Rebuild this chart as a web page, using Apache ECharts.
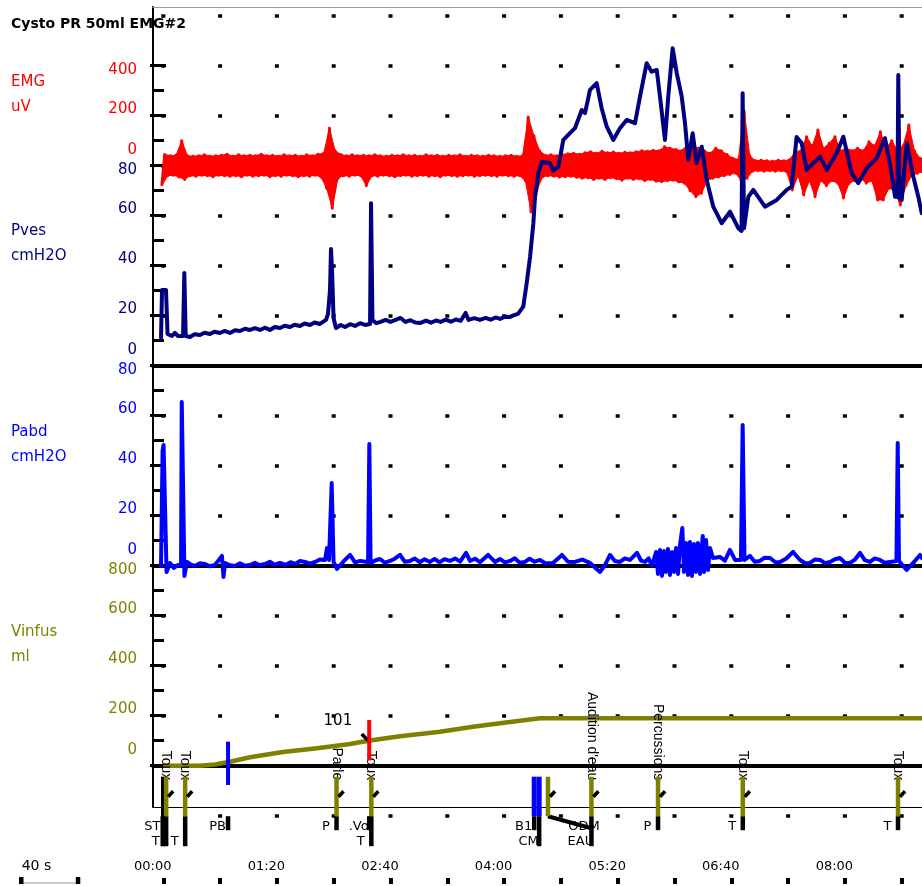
<!DOCTYPE html>
<html>
<head>
<meta charset="utf-8">
<script src="https://cdn.jsdelivr.net/npm/echarts@6/dist/echarts.min.js"></script>
<style>
  html, body { margin: 0; padding: 0; background: #fff; }
  #chart { width: 922px; height: 886px; }
</style>
</head>
<body>
<div id="chart"></div>
<script>
// ---------- recording data ----------
const chartTitle = 'Cysto PR 50ml EMG#2';

// time axis, seconds
const timeMin = -7.25;
const timeMax = 534.3;
const timeTickValues = [0, 40, 80, 120, 160, 200, 240, 280, 320, 360, 400, 440, 480, 520];
const timeLabelValues = [0, 80, 160, 240, 320, 400, 480];
const scaleBarSeconds = 40;

// channel axis labels and ticks
const emgLabels = [0, 200, 400];
const pvesLabels = [0, 20, 40, 60, 80];
const pvesMajor = [0, 20, 40, 60, 80, 100, 120];
const pvesMinor = [10, 30, 50, 70, 90, 110];
const pabdLabels = [0, 20, 40, 60, 80];
const pabdMajor = [0, 20, 40, 60, 80];
const pabdMinor = [10, 30, 50, 70];
const vinfusLabels = [0, 200, 400, 600, 800];
const vinfusMajor = [0, 200, 400, 600, 800];
const vinfusMinor = [100, 300, 500, 700];

// EMG envelope (uV): one trough and one peak per 4 s window, starting at -1 s
const emgStart = -1;
const emgStep = 4;
const emgLo = [
  -80, -40, -38, -45, -55, -40, -42, -38, -40, -44,
  -38, -40, -42, -40, -44, -38, -42, -40, -38, -44,
  -40, -42, -38, -40, -44, -40, -42, -38, -45, -90,
  -170, -50, -40, -42, -38, -40, -80, -40, -42, -38,
  -40, -44, -40, -38, -42, -40, -38, -42, -40, -44,
  -38, -40, -42, -40, -38, -42, -40, -38, -40, -42,
  -38, -40, -42, -40, -60, -185, -100, -45, -40, -42,
  -45, -44, -42, -46, -50, -48, -55, -50, -55, -48,
  -52, -58, -50, -55, -52, -60, -55, -62, -64, -60,
  -58, -65, -70, -100, -124, -110, -60, -50, -45, -40,
  -35, -30, -60, -50, -22, -20, -22, -20, -22, -20,
  -25, -97, -40, -117, -60, -124, -60, -80, -60, -70,
  -129, -70, -60, -50, -70, -60, -137, -137, -90, -100,
  -157, -80, -40, -30, -25
];
const emgHi = [
  45, 40, 42, 100, 40, 38, 40, 44, 38, 40,
  42, 46, 38, 44, 40, 42, 40, 46, 40, 42,
  38, 44, 40, 42, 38, 44, 40, 46, 50, 150,
  60, 45, 40, 44, 40, 42, 40, 44, 40, 38,
  42, 40, 44, 40, 42, 38, 44, 40, 42, 38,
  42, 40, 44, 38, 42, 40, 38, 42, 40, 38,
  40, 42, 38, 40, 195, 120, 60, 42, 44, 40,
  45, 48, 50, 46, 52, 56, 50, 58, 52, 55,
  50, 54, 52, 56, 60, 58, 62, 60, 76, 70,
  65, 60, 83, 80, 70, 60, 50, 70, 60, 45,
  30, 25, 220, 40, 20, 22, 20, 18, 22, 20,
  24, 56, 60, 116, 80, 143, 70, 90, 116, 60,
  70, 60, 70, 60, 96, 80, 136, 70, 100, 60,
  80, 163, 60, 30, 25
];

// Pves (cmH2O): [time s, value]
const pvesSamples = [
  [-1.6, 11.1], [-0.9, 30.3], [1.9, 30.3], [3.0, 12.7], [6.1, 11.9], [8.2, 13.1], [10.4, 11.9],
  [13.9, 11.9], [14.8, 37.1], [15.8, 11.9], [18.8, 11.5], [22.0, 12.6], [25.8, 12.3], [29.0, 13.2],
  [32.9, 12.7], [36.0, 13.6], [39.9, 13.1], [43.0, 13.9], [47.0, 13.1], [50.5, 14.2], [54.0, 13.9],
  [57.5, 14.8], [61.1, 14.3], [64.5, 15.0], [68.1, 14.3], [71.5, 15.2], [75.1, 14.3], [78.5, 15.5],
  [82.2, 15.1], [85.5, 16.0], [89.2, 15.5], [92.5, 16.4], [96.3, 15.9], [99.5, 16.9], [103.3, 16.3],
  [106.5, 17.3], [110.3, 16.7], [114.6, 18.3], [116.0, 20.7], [117.4, 30.3],
  [118.1, 46.7], [118.8, 38.3], [119.9, 19.1], [121.6, 15.1], [125.0, 16.3], [128.0, 15.5],
  [131.5, 16.6], [135.0, 15.9], [138.5, 17.0], [142.1, 16.3], [145.6, 16.7], [146.3, 65.0],
  [147.3, 18.3], [150.0, 17.0], [153.0, 17.5], [156.5, 18.3], [160.0, 17.5],
  [167.1, 19.1], [170.6, 17.5], [174.0, 18.2], [177.5, 17.3], [181.2, 17.1], [185.0, 18.0],
  [188.5, 17.2], [192.0, 18.1], [195.3, 17.5], [199.0, 18.4], [202.5, 17.6], [206.0, 18.5],
  [209.4, 17.9], [212.9, 21.1], [215.0, 18.3], [219.0, 19.0], [223.0, 18.3], [227.0, 19.1],
  [230.5, 18.4], [234.0, 19.3], [237.1, 18.7], [240.5, 19.6], [244.2, 19.5], [247.0, 20.2],
  [249.8, 20.7], [251.2, 19.9],
  [253.5, 23.6], [255.9, 33.0], [258.3, 43.6], [260.6, 57.0], [261.8, 67.6], [264.1, 77.0],
  [266.5, 81.6], [272.3, 81.0], [274.6, 78.0], [278.2, 79.6], [281.7, 90.3], [286.4, 93.0],
  [289.9, 95.0], [294.7, 102.3], [297.0, 101.0], [300.5, 110.3], [305.2, 113.0], [308.7, 103.0],
  [312.3, 95.6], [316.9, 90.3], [321.6, 95.0], [326.3, 98.3], [332.2, 97.0], [335.7, 107.6],
  [340.4, 121.0], [343.9, 117.6], [347.5, 118.3], [349.8, 107.6], [353.3, 90.3], [355.6, 107.6],
  [358.7, 127.0], [361.6, 117.0], [365.1, 107.6], [367.4, 97.0], [369.7, 82.3], [372.8, 93.0],
  [375.6, 81.0], [379.2, 87.6], [382.7, 74.3], [387.3, 63.6], [393.2, 57.0], [399.1, 61.6],
  [404.9, 55.0], [407.2, 53.9], [408.0, 109.0], [409.0, 55.0], [412.0, 67.6], [415.5, 70.3],
  [423.7, 63.6], [432.0, 66.3], [439.0, 70.3], [442.5, 71.6], [446.0, 91.5], [449.6, 89.0],
  [453.1, 78.3], [457.7, 81.0], [462.5, 83.6], [467.2, 78.3], [474.2, 85.0], [478.9, 91.6],
  [484.8, 77.0], [489.4, 73.0], [495.3, 79.0], [502.4, 83.0], [508.2, 91.0], [512.9, 77.0],
  [515.3, 67.6], [517.0, 67.5], [517.6, 116.3], [518.5, 67.0], [520.0, 66.3], [523.6, 89.0],
  [528.2, 75.6], [531.7, 67.6], [534.1, 61.0]
];

// Pabd (cmH2O): [time s, value]
const pabdSamples = [
  [-1.6, -0.1], [-0.5, 46.0], [0.2, 48.3], [1.2, 48.3], [2.3, -2.5], [4.7, 1.1], [7.5, -0.9], [10.4, 0.3],
  [12.5, 0.0], [13.0, 65.5], [14.9, -4.1], [16.7, 1.5], [19.5, 0.4], [22.3, -0.1], [25.8, 1.0], [29.4, 0.7],
  [32.8, -0.2], [36.4, 0.3], [41.3, 3.9], [42.4, -4.5], [43.5, 1.1], [47.0, 0.2], [50.5, -0.1], [54.0, 1.0],
  [57.5, 0.0], [61.1, 0.3], [64.5, 1.2], [68.0, 0.2], [71.6, 0.7], [75.0, 1.6], [78.5, 0.4], [82.2, 1.1],
  [86.0, 0.3], [89.5, 1.4], [92.8, 0.7], [96.3, 1.9], [99.8, 1.5], [103.3, 0.8], [106.9, 1.5], [110.3, 2.5],
  [113.9, 2.3], [115.3, 7.1], [116.7, 2.3], [118.6, 33.1],
  [119.9, 1.5], [122.3, -1.3], [126.6, 1.5], [131.5, 4.3], [135.0, 1.3], [138.6, 1.9], [144.2, 1.5], [145.1, 48.7],
  [146.0, 1.1], [149.5, 2.2], [152.7, 2.7], [156.0, 1.2], [159.7, 1.9], [163.0, 2.8], [166.7, 4.3], [170.0, 1.6],
  [173.7, 1.9], [177.0, 2.9], [180.5, 1.4], [184.0, 2.6], [187.8, 1.5], [191.0, 2.7], [194.5, 1.3], [198.0, 2.6],
  [201.9, 1.9], [205.5, 2.9], [209.0, 1.6], [213.2, 5.1], [216.0, 1.9], [219.5, 2.8], [223.0, 1.4],
  [228.7, 4.3], [233.6, 1.5], [237.0, 2.7], [240.5, 1.3], [244.2, 1.9], [247.5, 3.0], [251.0, 1.2],
  [254.7, 1.5], [258.0, 2.8], [261.5, 1.6], [265.3, 2.3],
  [269.0, 1.0], [274.4, 1.1], [280.8, 4.3], [285.0, 1.6], [289.9, 1.5], [295.0, 2.4], [300.5, 1.1],
  [307.5, -2.5], [311.1, 0.3], [314.6, 4.3], [318.0, 1.9], [321.6, 1.5], [325.0, 2.9], [328.7, 2.3],
  [333.6, 5.1], [336.5, 2.0], [339.3, 1.5], [341.8, 2.9], [344.1, -0.1], [347.0, 5.5], [348.4, -3.3],
  [349.8, 6.3], [351.2, -4.1], [352.6, 5.9], [354.0, -2.5], [355.4, 6.7], [356.8, -3.7], [358.3, 5.5],
  [359.7, -2.5], [361.1, 7.1], [362.5, -3.3], [363.9, 8.3], [365.5, 15.1], [366.7, -2.5], [368.1, 9.1],
  [369.5, -3.7], [370.9, 9.5], [372.3, -4.1], [373.7, 8.7], [375.1, -2.5], [376.5, 9.1], [378.0, -3.3],
  [379.9, 11.9], [380.8, -2.5], [382.2, 10.3], [383.6, -1.7], [385.0, 7.1], [387.1, 3.1], [392.0, 3.5],
  [395.5, 2.0], [399.1, 6.3], [402.6, 2.3], [406.8, 2.3], [408.0, 56.3], [409.3, 2.3], [413.2, 3.9],
  [416.5, 1.6], [420.2, 1.9], [423.5, 3.2], [427.3, 3.1], [431.0, 1.4], [434.3, 1.5], [438.5, 2.8],
  [443.5, 5.5], [448.4, 2.3], [452.0, 1.0], [455.4, 1.1], [459.0, 2.5], [462.5, 2.3], [466.0, 1.0],
  [469.5, 1.5], [473.0, 2.6], [476.5, 3.1], [480.0, 1.2], [483.6, 1.1], [487.0, 2.4], [490.6, 5.1],
  [494.0, 2.2], [497.7, 1.5], [501.0, 2.9], [504.7, 2.3], [508.0, 1.2], [511.8, 1.5], [516.3, 1.9],
  [517.2, 49.1], [518.1, 1.9], [523.5, -1.7], [528.7, 1.5], [532.9, 4.3], [534.3, 3.0]
];

// Vinfus (ml): [time s, value]
const vinfusSamples = [
  [0, 0], [25.8, 0], [36.4, 5], [47.0, 16], [61.0, 34], [84.3, 55], [108.3, 70], [131.5, 87],
  [145.6, 101], [166.7, 118], [194.9, 136], [218.1, 156], [237.1, 170], [251.2, 180],
  [265.3, 190], [534.3, 190]
];

// volume marker
const volumeMarkTime = 145.0;
const volumeMarkValue = 101;

// event markers
const markTime = [-0.4, 2.0, 15.4, 45.6, 122.0, 145.0, 146.5, 261.2, 264.7, 270.9, 301.5, 348.4, 408.1, 517.4];
const markKind = ['start', 'event', 'event', 'pb', 'event', 'vol', 'event', 'blue', 'blue', 'event', 'event', 'event', 'event', 'event'];
const markLane = [2, 2, 2, 1, 1, 1, 2, 1, 2, 0, 2, 1, 1, 1];
const markRow1 = ['ST', '', '', 'PB', 'P', '.Vo', '', 'B1', '', 'ODM', '', 'P', 'T', 'T'];
const markRow2 = ['', 'T', 'T', '', '', '', 'T', '', 'CM', '', 'EAU', '', '', ''];
const markNote = ['', 'Toux', 'Toux', '', 'Parle', '', 'Toux', '', '', '', "Audition d'eau", 'Percussions', 'Toux', 'Toux'];
const markLink = [null, null, null, null, null, null, null, null, null, 301.5, null, null, null, null];

// ---------- colours & layout ----------
const RED = '#ff0000', NAVY = '#000080', BLUE = '#0000ff', OLIVE = '#808000';
const FONT = 'DejaVu Sans';
const LEFT = 153, WIDTH = 769;
const DOT_LINE = { color: '#000', width: 3.5, type: [4, 52.8], dashOffset: 48.5 };

// EMG as a zig-zag through the envelope points (trough, then peak, per window)
const emgData = [];
emgLo.forEach((lo, i) => {
  const t = emgStart + i * emgStep;
  emgData.push([t, lo], [t + emgStep / 2, emgHi[i]]);
});

const mmss = v => String(Math.floor(v / 60)).padStart(2, '0') + ':' + String(v % 60).padStart(2, '0');

function labelFormatter(values) {
  const top = Math.max.apply(null, values), bottom = Math.min.apply(null, values);
  return v => (v === top ? '{t|' + v + '}' : v === bottom ? '{b|' + v + '}' : '{m|' + v + '}');
}
function labelRich(color) {
  const base = { color: color, fontFamily: FONT, fontSize: 15 };
  return {
    t: Object.assign({ padding: [8.6, 0, 0, 0] }, base),
    m: Object.assign({ padding: [0, 0, 13.4, 0] }, base),
    b: Object.assign({ padding: [0, 0, 31.4, 0] }, base)
  };
}

function xAxisFor(gridIndex, extra) {
  return Object.assign({
    type: 'value', gridIndex: gridIndex, min: timeMin, max: timeMax,
    axisLine: { show: false, onZero: false }, axisTick: { show: false },
    axisLabel: { show: false }, splitLine: { show: false }
  }, extra || {});
}
function plainY(gridIndex, min, max, extra) {
  return Object.assign({
    type: 'value', gridIndex: gridIndex, min: min, max: max, position: 'left',
    axisLine: { show: false, onZero: false }, axisTick: { show: false },
    axisLabel: { show: false }, splitLine: { show: false }
  }, extra || {});
}
function labelledY(gridIndex, min, max, interval, labels, major, color, showDots) {
  return plainY(gridIndex, min, max, {
    interval: interval, offset: 3,
    axisTick: { show: true, inside: true, length: 16, customValues: major, lineStyle: { color: '#000', width: 3 } },
    axisLabel: { show: true, customValues: labels, margin: 13, formatter: labelFormatter(labels), rich: labelRich(color) },
    splitLine: { show: showDots, lineStyle: DOT_LINE }
  });
}
function minorY(gridIndex, min, max, minor) {
  return plainY(gridIndex, min, max, {
    axisTick: { show: true, inside: true, length: 11, customValues: minor, lineStyle: { color: '#000', width: 3 } }
  });
}

// filled EMG band between consecutive trough and peak points
function renderEmgBand(params, api) {
  const i = api.value(1);
  if (i >= emgLo.length - 1) return null;
  const t0 = emgStart + i * emgStep, t1 = t0 + emgStep, h = emgStep / 2;
  const pts = [
    api.coord([t0, emgLo[i]]), api.coord([t1, emgLo[i + 1]]),
    api.coord([t1 + h, emgHi[i + 1]]), api.coord([t0 + h, emgHi[i]])
  ];
  return { type: 'polygon', shape: { points: pts }, style: { fill: RED, stroke: RED, lineWidth: 1 } };
}

// event markers below the volume channel
function renderMarker(params, api) {
  const i = api.value(1);
  const x = api.coord([api.value(0), 0])[0];
  const top = params.coordSys.y;
  const barTop = top + 11, barBottom = top + 50.5;
  const stubEnd = markLane[i] === 2 ? top + 80.5 : top + 64.5;
  const linkX = markLink[i] != null ? api.coord([markLink[i], 0])[0] : x;
  const labelX = markLink[i] != null ? linkX + 3 : x;
  const codeFont = '13px "' + FONT + '"';
  const kids = [];
  if (markRow1[i]) kids.push({ type: 'text', x: labelX - 10.5, y: top + 60.5,
    style: { text: markRow1[i], font: codeFont, fill: '#000', align: 'center', verticalAlign: 'middle' } });
  if (markRow2[i]) kids.push({ type: 'text', x: labelX - 10.5, y: top + 75.5,
    style: { text: markRow2[i], font: codeFont, fill: '#000', align: 'center', verticalAlign: 'middle' } });
  if (markNote[i]) kids.push({ type: 'text', x: x, y: top + 14.5, rotation: -Math.PI / 2,
    style: { text: markNote[i], font: '14px "Liberation Sans"', fill: '#000', align: 'right', verticalAlign: 'middle' } });
  if (markLane[i]) kids.push({ type: 'rect', shape: { x: x - 2.25, y: barBottom, width: 4.5, height: stubEnd - barBottom }, style: { fill: '#000' } });
  if (markLink[i] != null) kids.push({ type: 'line', shape: { x1: x, y1: barBottom, x2: linkX, y2: top + 62.5 }, style: { stroke: '#000', lineWidth: 4 } });
  const kind = markKind[i];
  if (kind === 'event') {
    kids.push({ type: 'rect', shape: { x: x - 2.25, y: barTop, width: 4.5, height: barBottom - barTop }, style: { fill: OLIVE } });
    kids.push({ type: 'line', shape: { x1: x + 2, y1: top + 31, x2: x + 7, y2: top + 25.5 }, style: { stroke: '#000', lineWidth: 3.5 } });
  } else if (kind === 'blue') {
    kids.push({ type: 'rect', shape: { x: x - 2.5, y: barTop, width: 5, height: barBottom - barTop }, style: { fill: BLUE } });
  } else if (kind === 'start') {
    kids.push({ type: 'rect', shape: { x: x - 1.75, y: barTop, width: 3.5, height: top + 80.5 - barTop }, style: { fill: '#000' } });
  } else if (kind === 'pb') {
    kids.push({ type: 'rect', shape: { x: x - 2, y: top - 24, width: 4, height: 43.3 }, style: { fill: BLUE } });
  }
  return { type: 'group', children: kids };
}

// red volume marker with its value
function renderVolume(params, api) {
  const v = api.value(1);
  const p = api.coord([api.value(0), v]);
  return { type: 'group', children: [
    { type: 'text', x: p[0] - 17, y: p[1] - 19.5,
      style: { text: String(v), font: '15px "' + FONT + '"', fill: '#000', align: 'right', verticalAlign: 'middle' } },
    { type: 'line', shape: { x1: p[0] - 7.5, y1: p[1] - 6.5, x2: p[0] - 1, y2: p[1] }, style: { stroke: '#000', lineWidth: 3.5 } },
    { type: 'rect', shape: { x: p[0] - 2, y: p[1] - 20.5, width: 4, height: 40.5 }, style: { fill: RED } }
  ] };
}

const nameStyle = color => ({ fontFamily: FONT, fontSize: 15, lineHeight: 25, fontWeight: 'normal', color: color });

const option = {
  animation: false,
  backgroundColor: '#fff',
  textStyle: { fontFamily: FONT },
  title: [
    { text: chartTitle, left: 11, top: 16, padding: 0,
      textStyle: { fontFamily: FONT, fontWeight: 'bold', fontSize: 14, lineHeight: 16, color: '#000' } },
    { text: 'EMG\nuV', left: 11, top: 69.2, padding: 0, textStyle: nameStyle(RED) },
    { text: 'Pves\ncmH2O', left: 11, top: 218.2, padding: 0, textStyle: nameStyle(NAVY) },
    { text: 'Pabd\ncmH2O', left: 11, top: 419.2, padding: 0, textStyle: nameStyle(BLUE) },
    { text: 'Vinfus\nml', left: 11, top: 619.5, padding: 0, textStyle: nameStyle(OLIVE) }
  ],
  grid: [
    { left: LEFT, width: WIDTH, top: 7, height: 800 },      // 0 frame
    { left: LEFT, width: WIDTH, top: 15.7, height: 350 },   // 1 EMG + Pves
    { left: LEFT, width: WIDTH, top: 365.7, height: 200 },  // 2 Pabd
    { left: LEFT, width: WIDTH, top: 565.7, height: 200 },  // 3 Vinfus
    { left: LEFT, width: WIDTH, top: 765.7, height: 50 },   // 4 events
    { left: LEFT, width: WIDTH, top: 820, height: 58 }      // 5 time scale
  ],
  xAxis: [
    xAxisFor(0, { position: 'top', axisLine: { show: true, onZero: false, lineStyle: { color: '#9a9a9a', width: 1 } } }),
    xAxisFor(0, { position: 'bottom', axisLine: { show: true, onZero: false, lineStyle: { color: '#000', width: 1.2 } } }),
    xAxisFor(1, { axisLine: { show: true, onZero: false, lineStyle: { color: '#000', width: 4 } } }),
    xAxisFor(2, { axisLine: { show: true, onZero: false, lineStyle: { color: '#000', width: 4 } } }),
    xAxisFor(3, { axisLine: { show: true, onZero: false, lineStyle: { color: '#000', width: 4 } } }),
    xAxisFor(4),
    xAxisFor(5, {
      axisTick: { show: true, length: 6, customValues: timeTickValues, lineStyle: { color: '#000', width: 4 } },
      axisLabel: { show: true, inside: true, margin: 4.5, customValues: timeLabelValues, formatter: mmss,
        padding: [0, 21, 0, 0], color: '#000', fontFamily: FONT, fontSize: 13 }
    })
  ],
  yAxis: [
    plainY(0, 0, 1, { axisLine: { show: true, onZero: false, lineStyle: { color: '#000', width: 2 } } }), // 0 frame
    plainY(1, -800, 600, {                                                                               // 1 EMG
      interval: 200,
      axisLabel: { show: true, customValues: emgLabels, margin: 16, formatter: labelFormatter(emgLabels), rich: labelRich(RED) },
      splitLine: { show: true, lineStyle: DOT_LINE }
    }),
    labelledY(1, 0, 140, 20, pvesLabels, pvesMajor, NAVY, false),       // 2 Pves
    minorY(1, 0, 140, pvesMinor),                                       // 3
    labelledY(2, 0, 80, 20, pabdLabels, pabdMajor, BLUE, true),         // 4 Pabd
    minorY(2, 0, 80, pabdMinor),                                        // 5
    labelledY(3, 0, 800, 200, vinfusLabels, vinfusMajor, OLIVE, true),  // 6 Vinfus
    minorY(3, 0, 800, vinfusMinor),                                     // 7
    plainY(4, 0, 50, { interval: 50, splitLine: { show: true, lineStyle: DOT_LINE } }), // 8 events
    plainY(5, 0, 1)                                                     // 9 time scale
  ],
  series: [
    { name: 'EMG band', type: 'custom', xAxisIndex: 2, yAxisIndex: 1, renderItem: renderEmgBand,
      data: emgLo.map((lo, i) => [emgStart + i * emgStep, i]), clip: false, silent: true, z: 2 },
    { name: 'EMG', type: 'line', xAxisIndex: 2, yAxisIndex: 1, data: emgData, symbol: 'none',
      lineStyle: { color: RED, width: 3, join: 'round' }, clip: false, z: 2 },
    { name: 'Pves', type: 'line', xAxisIndex: 2, yAxisIndex: 2, data: pvesSamples, symbol: 'none',
      lineStyle: { color: NAVY, width: 4, join: 'round', cap: 'round' }, clip: false, z: 3 },
    { name: 'Pabd', type: 'line', xAxisIndex: 3, yAxisIndex: 4, data: pabdSamples, symbol: 'none',
      lineStyle: { color: BLUE, width: 4, join: 'round', cap: 'round' }, clip: false, z: 3 },
    { name: 'Vinfus', type: 'line', xAxisIndex: 4, yAxisIndex: 6, data: vinfusSamples, symbol: 'none',
      lineStyle: { color: OLIVE, width: 4.5, join: 'round' }, clip: false, z: 3 },
    { name: 'Events', type: 'custom', xAxisIndex: 5, yAxisIndex: 8, renderItem: renderMarker,
      data: markTime.map((t, i) => [t, i]), clip: false, silent: true, z: 4 },
    { name: 'Volume mark', type: 'custom', xAxisIndex: 4, yAxisIndex: 6, renderItem: renderVolume,
      data: [[volumeMarkTime, volumeMarkValue]], clip: false, silent: true, z: 4 }
  ]
};

const chart = echarts.init(document.getElementById('chart'), null, { renderer: 'canvas' });
chart.setOption(option);

// time scale bar in the bottom-left corner, sized from the time axis
const x0 = chart.convertToPixel({ xAxisIndex: 6 }, 0);
const barW = chart.convertToPixel({ xAxisIndex: 6 }, scaleBarSeconds) - x0;
chart.setOption({
  graphic: [
    { type: 'line', shape: { x1: 21.2, y1: 883, x2: 21.2 + barW, y2: 883 }, style: { stroke: '#999', lineWidth: 1 } },
    { type: 'rect', shape: { x: 19, y: 877, width: 4.5, height: 7 }, style: { fill: '#000' } },
    { type: 'rect', shape: { x: 19 + barW, y: 877, width: 4.5, height: 7 }, style: { fill: '#000' } },
    { type: 'text', x: 21.7, y: 866, style: { text: scaleBarSeconds + ' s', font: '14px "' + FONT + '"', fill: '#000', align: 'left', verticalAlign: 'middle' } }
  ]
});
</script>
</body>
</html>
